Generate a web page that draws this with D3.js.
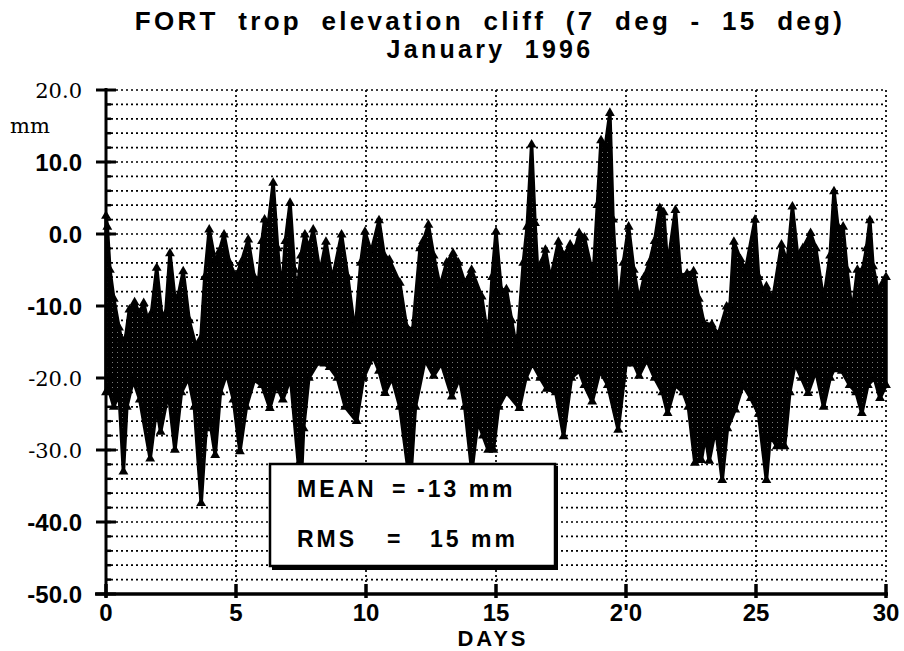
<!DOCTYPE html>
<html>
<head>
<meta charset="utf-8">
<script src="https://cdn.jsdelivr.net/npm/d3@7"></script>
<style>
  body { margin: 0; background: #fff; }
  svg { display: block; }
</style>
</head>
<body>
<svg id="chart" width="904" height="651"></svg>
<script>
// upper edge of the plotted cloud (day, mm)
const upperDays = [0.00, 0.05, 0.15, 0.30, 0.50, 0.60, 0.75, 0.90, 1.10, 1.28, 1.45, 1.60, 1.75, 1.95, 2.15, 2.30, 2.46, 2.65, 2.77, 2.97,
  3.20, 3.45, 3.65, 3.80, 3.97, 4.20, 4.35, 4.54, 4.75, 5.00, 5.20, 5.47, 5.70, 5.85, 6.00, 6.10, 6.25, 6.43, 6.60, 6.76,
  6.90, 7.08, 7.25, 7.33, 7.50, 7.65, 7.80, 7.97, 8.23, 8.46, 8.70, 9.06, 9.30, 9.58, 9.80, 9.96, 10.2, 10.5, 10.7, 10.9,
  11.3, 11.56, 11.8, 12.08, 12.2, 12.4, 12.6, 12.85, 13.1, 13.35, 13.55, 13.8, 14.06, 14.45, 14.7, 14.85, 15.0, 15.2, 15.4, 15.6,
  15.8, 16.05, 16.2, 16.37, 16.5, 16.6, 16.75, 16.9, 17.1, 17.4, 17.6, 17.85, 18.05, 18.2, 18.4, 18.74, 18.9, 19.04, 19.2, 19.38,
  19.5, 19.7, 19.9, 20.1, 20.3, 20.5, 20.7, 20.9, 21.1, 21.3, 21.45, 21.6, 21.9, 22.1, 22.35, 22.6, 22.8, 23.0, 23.3, 23.55,
  23.87, 24.0, 24.15, 24.4, 24.6, 24.96, 25.1, 25.3, 25.4, 25.65, 25.98, 26.2, 26.4, 26.6, 26.8, 27.1, 27.3, 27.6, 27.85, 28.0,
  28.15, 28.35, 28.5, 28.7, 28.9, 29.1, 29.25, 29.38, 29.5, 29.7, 29.85, 30.0];
const upperMm = [2.5, 1.0, -5, -9, -13, -14.7, -14.5, -10.5, -9.5, -11, -9.6, -12, -11, -4.7, -11.5, -11, -2.7, -9, -8.7, -5.2,
  -12, -15.5, -14.5, -6, 0.6, -3.9, -2.5, -0.1, -4, -6, -4, -0.8, -6, -7.4, -1, 2.0, 1.5, 7.1, -2, -8.2,
  -1, 4.3, -5, -9.2, -3, -0.1, -2, 0.6, -5.4, -1.1, -6.4, -0.1, -6, -13.8, -4, 0.3, -2.5, 1.9, -3, -3.6,
  -6.8, -12.9, -13.3, -2, -1, 1.25, -3, -7.3, -4, -2.7, -4, -6.8, -5, -8.7, -14.7, -6, 0.3, -7.8, -7.7, -12,
  -16.1, -4, 1, 12.4, 1.5, -5, -4, -2.2, -6.3, -1.1, -3, -1.5, -2, 0.1, -0.5, -5.9, 4, 13, 12, 16.8,
  2, -11, -4, 1.0, -5, -9.2, -6, -4, -1, 3.6, 3.0, -4.5, 3.3, -5.8, -5.5, -5.2, -9, -12.4, -12.6, -14,
  -10.1, -10, -1.1, -3.5, -5, 1.95, -6, -8.3, -7.3, -9, -1.5, -4, 3.8, -3, -2, 0.1, -2, -9.2, -3, 5.9,
  1, 1, -5, -11, -5, -5, -2, 1.9, -4.5, -8, -7, -6];

// lower edge of the plotted cloud (day, mm)
const lowerDays = [0.00, 0.10, 0.30, 0.50, 0.67, 0.80, 1.05, 1.30, 1.70, 1.95, 2.10, 2.40, 2.65, 2.90, 3.17, 3.40, 3.66, 3.85, 4.00, 4.20,
  4.40, 4.64, 4.90, 5.15, 5.40, 5.70, 6.00, 6.30, 6.55, 6.80, 7.10, 7.40, 7.50, 7.60, 7.80, 8.15, 8.40, 8.60, 8.90, 9.20,
  9.64, 9.90, 10.27, 10.5, 10.73, 11.0, 11.3, 11.7, 11.9, 12.27, 12.6, 12.9, 13.3, 13.6, 13.8, 14.07, 14.3, 14.5, 14.7, 14.9,
  15.1, 15.4, 15.9, 16.15, 16.4, 16.7, 16.95, 17.3, 17.6, 17.9, 18.2, 18.4, 18.7, 19.0, 19.3, 19.7, 20.0, 20.3, 20.5, 20.8,
  21.1, 21.4, 21.6, 21.9, 22.2, 22.4, 22.65, 22.9, 23.05, 23.2, 23.45, 23.7, 23.9, 24.2, 24.5, 24.8, 25.1, 25.4, 25.55, 25.8,
  26.1, 26.3, 26.5, 26.75, 27.0, 27.3, 27.6, 27.85, 28.0, 28.3, 28.6, 28.85, 29.07, 29.3, 29.55, 29.77, 30.0];
const lowerMm = [-22, -21.5, -24, -22, -33, -24, -20.3, -23, -31.2, -24, -27.5, -22, -30, -22, -20, -24, -37.4, -27, -26, -30.7,
  -22, -19.4, -23, -30.2, -24, -20.3, -21, -24.2, -21, -23, -20, -32, -35, -27, -20, -17.9, -18, -18.5, -20, -24,
  -26, -20, -17, -19, -22.1, -20, -24, -35, -24, -17.5, -19.7, -18, -22.6, -20, -24, -33, -26, -28, -30, -30,
  -24, -22, -24.2, -20, -18, -20, -21.5, -22, -28.1, -20, -19, -21, -23.3, -19, -21, -27.2, -18, -18, -19.7, -17.5,
  -20, -22, -24.9, -21, -22, -24, -31.8, -31.4, -28, -31.5, -27, -34.2, -27, -24.4, -21, -22.8, -25, -34.2, -28, -29.5,
  -29.5, -22, -18, -20, -22.1, -19, -24, -20, -18.8, -19, -21, -22, -24.9, -21, -20, -22.8, -21];

const xTicks = [0, 5, 10, 15, 20, 25, 30];
const xTickLabels = ["0", "5", "10", "15", "2'0", "25", "30"];
const yTicks = [20, 10, 0, -10, -20, -30, -40, -50];
const yTickLabels = ["20.0", "10.0", "0.0", "-10.0", "-20.0", "-30.0", "-40.0", "-50.0"];

const svg = d3.select("#chart");
const sans = "'Liberation Sans', Arial, sans-serif";

const x = d3.scaleLinear().domain([0, 30]).range([106, 886]);
const y = d3.scaleLinear().domain([-50, 20]).range([594, 90]);

// speckled black, like the overprinted triangles in the scan
const pat = svg.append("defs").append("pattern")
  .attr("id", "speckle")
  .attr("width", 5).attr("height", 5)
  .attr("patternUnits", "userSpaceOnUse");
pat.append("rect").attr("width", 5).attr("height", 5).attr("fill", "#000");
pat.append("rect").attr("x", 2).attr("y", 2).attr("width", 1).attr("height", 1).attr("fill", "#777");

// dotted grid, every 2 mm and every 5 days
const grid = svg.append("g").attr("stroke", "#000").attr("stroke-width", 1.7).attr("stroke-dasharray", "2,3");
grid.selectAll("line.h")
  .data(d3.range(-48, 21, 2))
  .enter().append("line")
  .attr("x1", x(0)).attr("x2", x(30))
  .attr("y1", d => y(d)).attr("y2", d => y(d));
grid.selectAll("line.v")
  .data(xTicks.slice(1))
  .enter().append("line")
  .attr("x1", d => x(d)).attr("x2", d => x(d))
  .attr("y1", y(20)).attr("y2", y(-50));

// the data cloud: upper edge left->right, lower edge back
const upper = upperDays.map((d, i) => [d, upperMm[i]]);
const lower = lowerDays.map((d, i) => [d, lowerMm[i]]);
const line = d3.line().x(d => x(d[0])).y(d => y(d[1]));

svg.append("path")
  .attr("d", line(upper.concat(lower.slice().reverse())) + "Z")
  .attr("fill", "url(#speckle)")
  .attr("stroke", "#000")
  .attr("stroke-width", 3.5)
  .attr("stroke-linejoin", "round");

const tri = d3.symbol().type(d3.symbolTriangle).size(42);
svg.append("g").selectAll("path")
  .data(upper.concat(lower))
  .enter().append("path")
  .attr("d", tri)
  .attr("transform", d => `translate(${x(d[0])},${y(d[1])})`)
  .attr("fill", "#000");

// axes
const axes = svg.append("g").attr("stroke", "#000");
axes.append("line")
  .attr("x1", x(0)).attr("x2", x(0))
  .attr("y1", y(20) - 2).attr("y2", y(-50) + 3)
  .attr("stroke-width", 3);
axes.append("line")
  .attr("x1", x(0) - 11).attr("x2", x(30) + 2)
  .attr("y1", y(-50)).attr("y2", y(-50))
  .attr("stroke-width", 3.5);
axes.selectAll("line.ymaj")
  .data(yTicks)
  .enter().append("line")
  .attr("x1", x(0) - 10).attr("x2", x(0) + 10)
  .attr("y1", d => y(d)).attr("y2", d => y(d))
  .attr("stroke-width", 3);
axes.selectAll("line.ymin")
  .data(d3.range(-48, 20, 2))
  .enter().append("line")
  .attr("x1", x(0)).attr("x2", x(0) + 5)
  .attr("y1", d => y(d)).attr("y2", d => y(d))
  .attr("stroke-width", 2.5);
axes.selectAll("line.xt")
  .data(xTicks)
  .enter().append("line")
  .attr("x1", d => x(d)).attr("x2", d => x(d))
  .attr("y1", y(-50) - 10).attr("y2", y(-50) + 4)
  .attr("stroke-width", 3.5);

// y labels, the scan mixes a light serif and a bold sans
const serifTicks = new Set([20, -20, -30]);
svg.append("g").selectAll("text")
  .data(yTicks)
  .enter().append("text")
  .attr("x", 82)
  .attr("y", d => y(d))
  .attr("dy", "0.36em")
  .attr("text-anchor", "end")
  .attr("font-family", d => serifTicks.has(d) ? "'DejaVu Serif', serif" : sans)
  .attr("font-weight", d => serifTicks.has(d) ? "normal" : "bold")
  .attr("font-size", d => serifTicks.has(d) ? 21 : 24)
  .text((d, i) => yTickLabels[i]);

svg.append("text")
  .attr("x", 10).attr("y", 133)
  .attr("font-family", "'DejaVu Serif', serif")
  .attr("font-size", 21)
  .text("mm");

svg.append("g").selectAll("text")
  .data(xTicks)
  .enter().append("text")
  .attr("x", d => x(d))
  .attr("y", 621)
  .attr("text-anchor", "middle")
  .attr("font-family", sans)
  .attr("font-weight", "bold")
  .attr("font-size", 24)
  .text((d, i) => xTickLabels[i]);

svg.append("text")
  .attr("x", 493).attr("y", 646)
  .attr("text-anchor", "middle")
  .attr("font-family", sans)
  .attr("font-weight", "bold")
  .attr("font-size", 22)
  .attr("letter-spacing", 3)
  .text("DAYS");

// title
const title = svg.append("g")
  .attr("font-family", sans)
  .attr("font-weight", "bold")
  .attr("text-anchor", "middle");
title.append("text").attr("x", 490).attr("y", 30)
  .attr("font-size", 26).attr("letter-spacing", 3.3).attr("word-spacing", 9)
  .text("FORT trop elevation cliff (7 deg - 15 deg)");
title.append("text").attr("x", 490).attr("y", 58)
  .attr("font-size", 25).attr("letter-spacing", 3.3).attr("word-spacing", 9)
  .text("January 1996");

// stats box
const box = svg.append("g");
box.append("rect")
  .attr("x", 272).attr("y", 466).attr("width", 286).attr("height", 104)
  .attr("fill", "#000");
box.append("rect")
  .attr("x", 270).attr("y", 464).attr("width", 285).attr("height", 102)
  .attr("fill", "#fff").attr("stroke", "#000").attr("stroke-width", 2.5);
const boxText = box.append("g")
  .attr("font-family", sans)
  .attr("font-weight", "bold")
  .attr("font-size", 23)
  .attr("letter-spacing", 3);
boxText.append("text").attr("x", 297).attr("y", 497).text("MEAN");
boxText.append("text").attr("x", 392).attr("y", 497).text("=");
boxText.append("text").attr("x", 417).attr("y", 497).text("-13 mm");
boxText.append("text").attr("x", 297).attr("y", 547).text("RMS");
boxText.append("text").attr("x", 387).attr("y", 547).text("=");
boxText.append("text").attr("x", 430).attr("y", 547).text("15 mm");
</script>
</body>
</html>
